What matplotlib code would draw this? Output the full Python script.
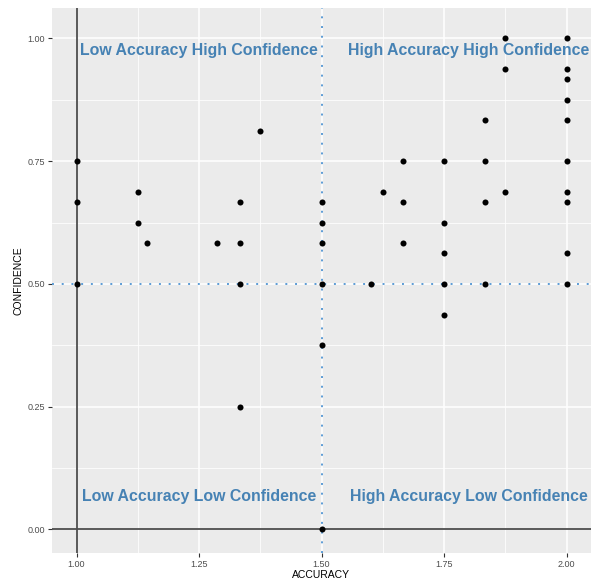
import matplotlib
matplotlib.use("Agg")
import matplotlib.pyplot as plt
from matplotlib.ticker import MultipleLocator

plt.rcParams['font.family'] = ['Liberation Sans', 'DejaVu Sans']

# Accuracy / confidence observations
accuracy = [1.0, 1.0, 1.0,
            1.125, 1.125, 1.1429, 1.2857,
            1.3333, 1.3333, 1.3333, 1.3333, 1.375,
            1.5, 1.5, 1.5, 1.5, 1.5, 1.5,
            1.6, 1.625,
            1.6667, 1.6667, 1.6667,
            1.75, 1.75, 1.75, 1.75, 1.75,
            1.8333, 1.8333, 1.8333, 1.8333,
            1.875, 1.875, 1.875,
            2.0, 2.0, 2.0, 2.0, 2.0, 2.0, 2.0, 2.0, 2.0, 2.0]
confidence = [0.75, 0.6667, 0.5,
              0.6875, 0.625, 0.5833, 0.5833,
              0.6667, 0.5833, 0.5, 0.25, 0.8125,
              0.6667, 0.625, 0.5833, 0.5, 0.375, 0.0,
              0.5, 0.6875,
              0.75, 0.6667, 0.5833,
              0.75, 0.625, 0.5625, 0.5, 0.4375,
              0.8333, 0.75, 0.6667, 0.5,
              1.0, 0.9375, 0.6875,
              1.0, 0.9375, 0.9167, 0.875, 0.8333, 0.75, 0.6875, 0.6667, 0.5625, 0.5]

x_ticks = [1.00, 1.25, 1.50, 1.75, 2.00]
y_ticks = [0.00, 0.25, 0.50, 0.75, 1.00]

quadrant_labels = ["Low Accuracy High Confidence", "High Accuracy High Confidence",
                   "Low Accuracy Low Confidence", "High Accuracy Low Confidence"]
label_x = [1.25, 1.80, 1.25, 1.80]
label_y = [0.975, 0.975, 0.068, 0.068]

fig = plt.figure(figsize=(6.0, 5.81), dpi=100)
ax = fig.add_axes([0.0867, 0.0482, 0.8983, 0.938])
ax.set_facecolor('#EBEBEB')
for s in ax.spines.values():
    s.set_visible(False)

ax.set_xlim(0.95, 2.05)
ax.set_ylim(-0.048, 1.062)
ax.set_xticks(x_ticks)
ax.set_yticks(y_ticks)
ax.set_xticklabels([f"{t:.2f}" for t in x_ticks])
ax.set_yticklabels([f"{t:.2f}" for t in y_ticks])
ax.xaxis.set_minor_locator(MultipleLocator(0.125))
ax.yaxis.set_minor_locator(MultipleLocator(0.125))
ax.grid(which='major', color='white', linewidth=1.1)
ax.grid(which='minor', color='white', linewidth=0.55)
ax.set_axisbelow(True)
ax.tick_params(which='major', length=3, color='#333333', labelsize=6.5,
               labelcolor='#4D4D4D', pad=2)
ax.tick_params(which='minor', length=0)

ax.axvline(1.0, color='#4D4D4D', linewidth=1.3, zorder=1)
ax.axhline(0.0, color='#4D4D4D', linewidth=1.3, zorder=1)
ax.axvline(1.5, color='#5B9BD5', linewidth=1.4, linestyle=(0, (1, 4)), zorder=1)
ax.axhline(0.5, color='#5B9BD5', linewidth=1.4, linestyle=(0, (1, 4)), zorder=1)

ax.scatter(accuracy, confidence, s=19, color='black', zorder=3, linewidths=0)

for txt, lx, ly in zip(quadrant_labels, label_x, label_y):
    ax.text(lx, ly, txt, ha='center', va='center', color='#4682B4',
            fontsize=11.4, fontweight='bold', zorder=4)

ax.set_xlabel("ACCURACY", fontsize=7.5, labelpad=1)
ax.set_ylabel("CONFIDENCE", fontsize=7.5, labelpad=3)

fig.savefig("out.png", dpi=100)
